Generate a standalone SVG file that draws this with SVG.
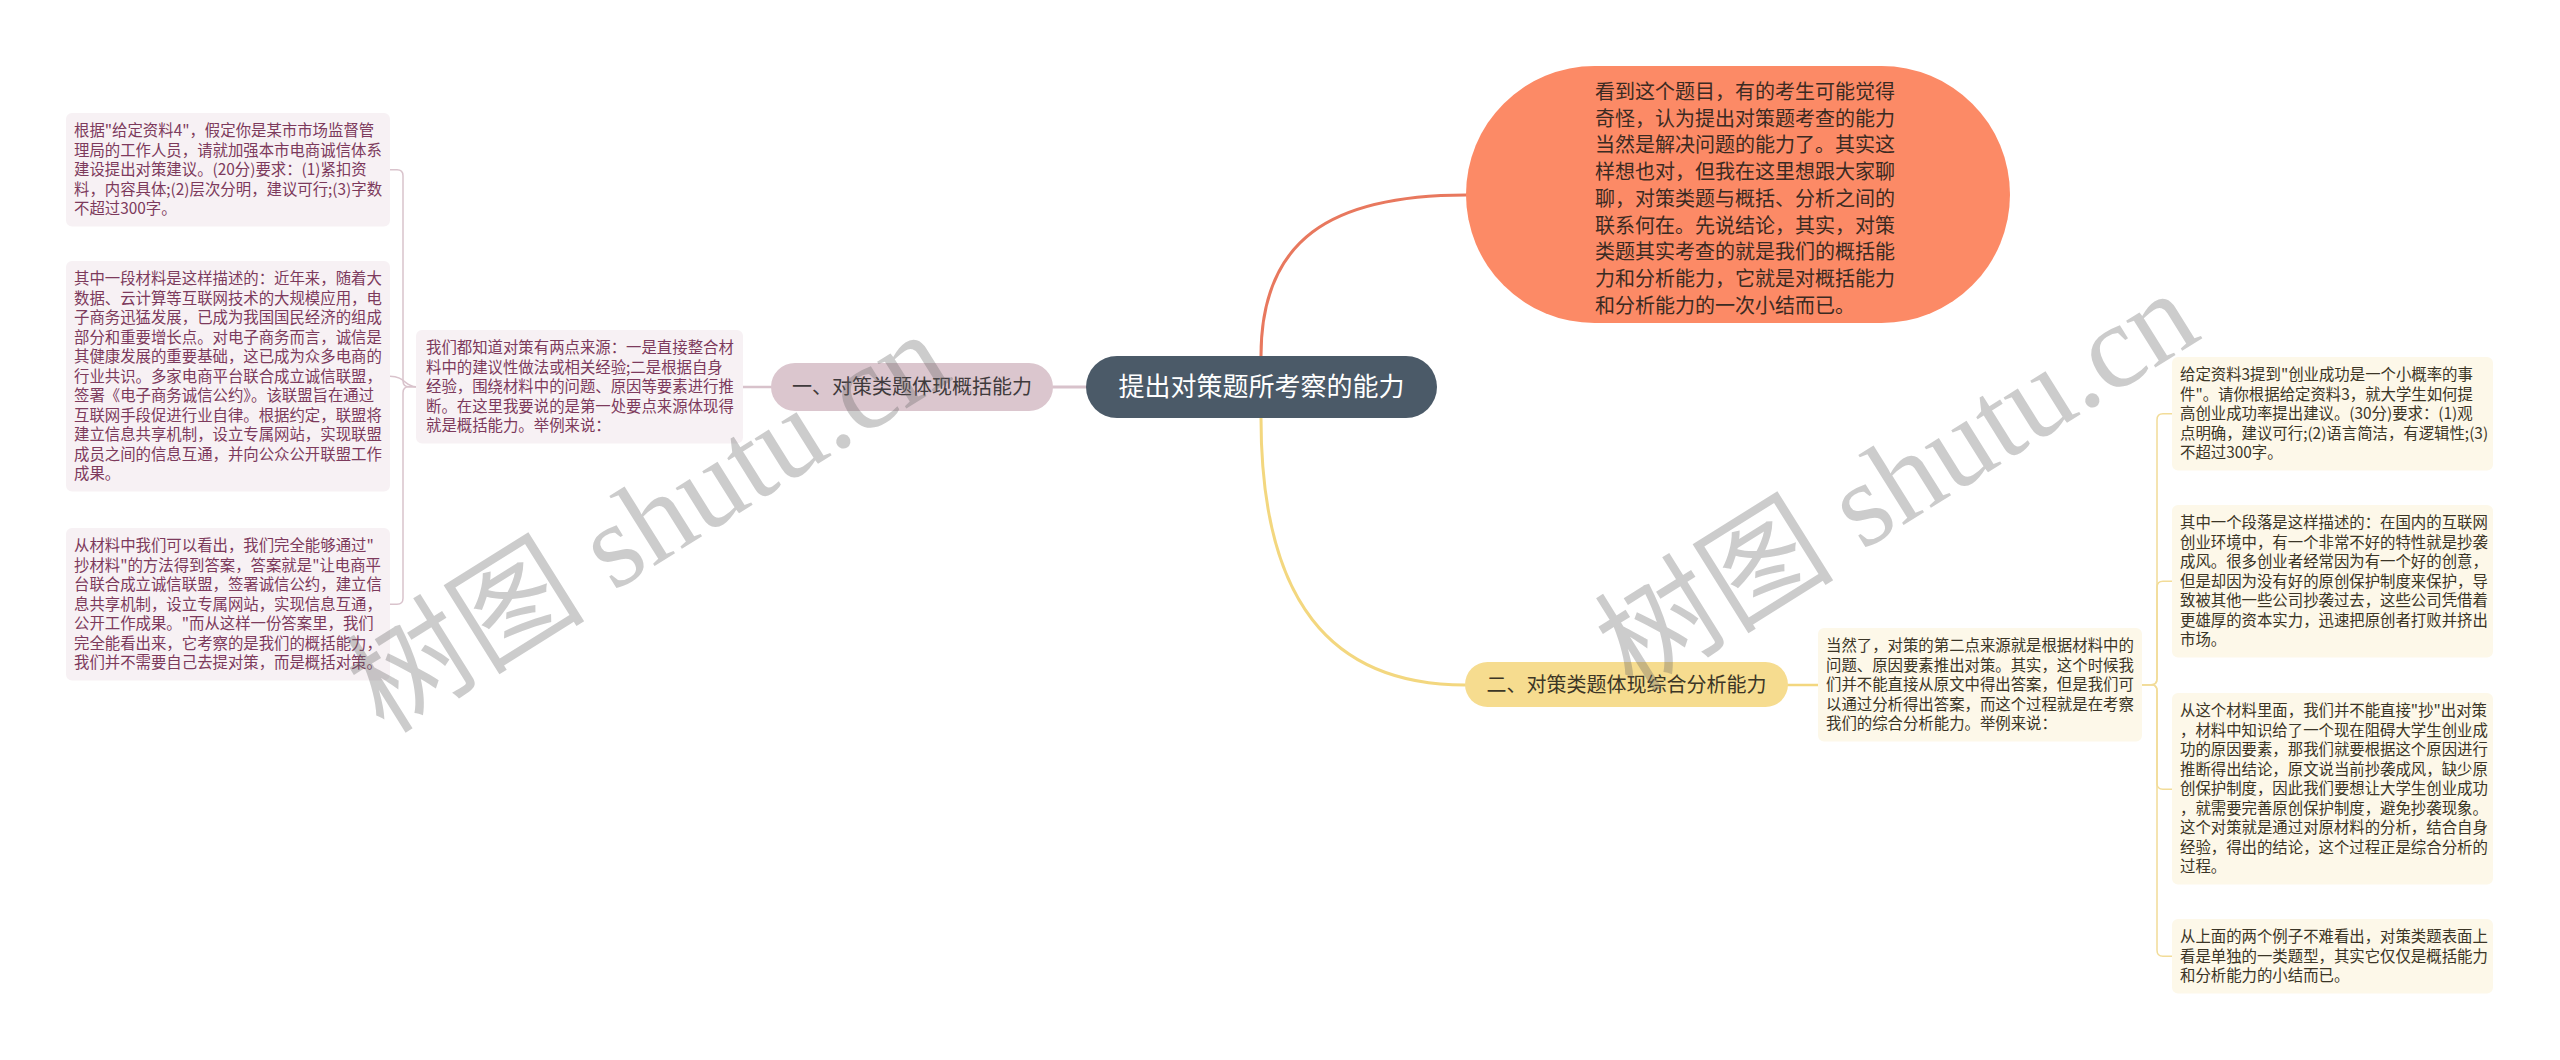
<svg xmlns="http://www.w3.org/2000/svg" width="2560" height="1060" viewBox="0 0 2560 1060">
<style>
  text { font-family: "Noto Sans CJK SC", "Noto Sans", sans-serif; }
  .lf { fill: #f7f1f4; }
  .rf { fill: #fdf8e9; }
  .lt { font-size: 15.4px; fill: #7d3a5c; }
  .rt { font-size: 15.4px; fill: #3b3526; }
  .conn { fill: none; stroke-linecap: round; }
  .wm { font-family: "Liberation Serif", "Noto Sans CJK SC", serif; font-size: 120px; fill: #666; opacity: 0.33; }
</style>
<rect width="2560" height="1060" fill="#ffffff"/>

<g id="connectors">
  <path class="conn" d="M1261 356 C1261 240 1330 195 1466 195" stroke="#e8785e" stroke-width="3"/>
  <path class="conn" d="M1261 418 C1261 600 1330 685 1465 685" stroke="#f3d77f" stroke-width="3"/>
  <path class="conn" d="M1086 387 H1053" stroke="#d8c2cb" stroke-width="3"/>
  <path class="conn" d="M771 387 H743" stroke="#d8c2cb" stroke-width="2.5"/>
  <path class="conn" d="M416 386.75 H409 Q403 386.75 403 380.75 V175.75 Q403 169.75 397 169.75 H390" stroke="#d9c3cc" stroke-width="1.5"/>
  <path class="conn" d="M416 386.75 C405 386.75 405 376.25 390 376.25" stroke="#d9c3cc" stroke-width="1.5"/>
  <path class="conn" d="M416 386.75 H409 Q403 386.75 403 392.75 V598.25 Q403 604.25 397 604.25 H390" stroke="#d9c3cc" stroke-width="1.5"/>
  <path class="conn" d="M1788 685 H1818" stroke="#f3d77f" stroke-width="2.5"/>
  <path class="conn" d="M2142 684.75 H2151 Q2157 684.75 2157 678.75 V419.75 Q2157 413.75 2163 413.75 H2172" stroke="#f2dc98" stroke-width="1.5"/>
  <path class="conn" d="M2142 684.75 H2151 Q2157 684.75 2157 678.75 V587.25 Q2157 581.25 2163 581.25 H2172" stroke="#f2dc98" stroke-width="1.5"/>
  <path class="conn" d="M2142 684.75 H2151 Q2157 684.75 2157 690.75 V783.25 Q2157 789.25 2163 789.25 H2172" stroke="#f2dc98" stroke-width="1.5"/>
  <path class="conn" d="M2142 684.75 H2151 Q2157 684.75 2157 690.75 V950.25 Q2157 956.25 2163 956.25 H2172" stroke="#f2dc98" stroke-width="1.5"/>
</g>

<g id="root">
  <rect x="1086" y="356" width="351" height="62" rx="31" fill="#4b5a68"/>
  <text x="1261.5" y="396" font-size="26" fill="#ffffff" text-anchor="middle">提出对策题所考察的能力</text>
</g>

<g id="intro">
  <rect x="1466" y="66" width="544" height="257" rx="128.5" fill="#fc8a66"/>
  <text font-size="20" fill="#3b2a22">
    <tspan x="1595" y="99">看到这个题目，有的考生可能觉得</tspan>
    <tspan x="1595" y="125.7">奇怪，认为提出对策题考查的能力</tspan>
    <tspan x="1595" y="152.4">当然是解决问题的能力了。其实这</tspan>
    <tspan x="1595" y="179.1">样想也对，但我在这里想跟大家聊</tspan>
    <tspan x="1595" y="205.8">聊，对策类题与概括、分析之间的</tspan>
    <tspan x="1595" y="232.5">联系何在。先说结论，其实，对策</tspan>
    <tspan x="1595" y="259.2">类题其实考查的就是我们的概括能</tspan>
    <tspan x="1595" y="285.9">力和分析能力，它就是对概括能力</tspan>
    <tspan x="1595" y="312.6">和分析能力的一次小结而已。</tspan>
  </text>
</g>

<g id="branch1">
  <rect x="771" y="363" width="282" height="48" rx="24" fill="#dbc6ce"/>
  <text x="912" y="394" font-size="20" fill="#3f3a3c" text-anchor="middle">一、对策类题体现概括能力</text>
</g>

<g id="branch2">
  <rect x="1465" y="662" width="323" height="45" rx="22.5" fill="#f6dc8f"/>
  <text x="1626.5" y="692" font-size="20" fill="#3c3626" text-anchor="middle">二、对策类题体现综合分析能力</text>
</g>

<g id="left-mid">
  <rect class="lf" x="416" y="330" width="327" height="113.5" rx="6"/>
  <text class="lt">
    <tspan x="426" y="353.3">我们都知道对策有两点来源：一是直接整合材</tspan>
    <tspan x="426" y="372.8">料中的建议性做法或相关经验;二是根据自身</tspan>
    <tspan x="426" y="392.3">经验，围绕材料中的问题、原因等要素进行推</tspan>
    <tspan x="426" y="411.8">断。在这里我要说的是第一处要点来源体现得</tspan>
    <tspan x="426" y="431.3">就是概括能力。举例来说：</tspan>
  </text>
</g>

<g id="left-leaf1">
  <rect class="lf" x="66" y="113" width="324" height="113.5" rx="6"/>
  <text class="lt">
    <tspan x="74" y="136.3">根据"给定资料4"，假定你是某市市场监督管</tspan>
    <tspan x="74" y="155.8">理局的工作人员，请就加强本市电商诚信体系</tspan>
    <tspan x="74" y="175.3">建设提出对策建议。(20分)要求：(1)紧扣资</tspan>
    <tspan x="74" y="194.8">料，内容具体;(2)层次分明，建议可行;(3)字数</tspan>
    <tspan x="74" y="214.3">不超过300字。</tspan>
  </text>
</g>

<g id="left-leaf2">
  <rect class="lf" x="66" y="261" width="324" height="230.5" rx="6"/>
  <text class="lt">
    <tspan x="74" y="284.3">其中一段材料是这样描述的：近年来，随着大</tspan>
    <tspan x="74" y="303.8">数据、云计算等互联网技术的大规模应用，电</tspan>
    <tspan x="74" y="323.3">子商务迅猛发展，已成为我国国民经济的组成</tspan>
    <tspan x="74" y="342.8">部分和重要增长点。对电子商务而言，诚信是</tspan>
    <tspan x="74" y="362.3">其健康发展的重要基础，这已成为众多电商的</tspan>
    <tspan x="74" y="381.8">行业共识。多家电商平台联合成立诚信联盟，</tspan>
    <tspan x="74" y="401.3">签署《电子商务诚信公约》。该联盟旨在通过</tspan>
    <tspan x="74" y="420.8">互联网手段促进行业自律。根据约定，联盟将</tspan>
    <tspan x="74" y="440.3">建立信息共享机制，设立专属网站，实现联盟</tspan>
    <tspan x="74" y="459.8">成员之间的信息互通，并向公众公开联盟工作</tspan>
    <tspan x="74" y="479.3">成果。</tspan>
  </text>
</g>

<g id="left-leaf3">
  <rect class="lf" x="66" y="528" width="324" height="152.5" rx="6"/>
  <text class="lt">
    <tspan x="74" y="551.3">从材料中我们可以看出，我们完全能够通过"</tspan>
    <tspan x="74" y="570.8">抄材料"的方法得到答案，答案就是"让电商平</tspan>
    <tspan x="74" y="590.3">台联合成立诚信联盟，签署诚信公约，建立信</tspan>
    <tspan x="74" y="609.8">息共享机制，设立专属网站，实现信息互通，</tspan>
    <tspan x="74" y="629.3">公开工作成果。"而从这样一份答案里，我们</tspan>
    <tspan x="74" y="648.8">完全能看出来，它考察的是我们的概括能力，</tspan>
    <tspan x="74" y="668.3">我们并不需要自己去提对策，而是概括对策。</tspan>
  </text>
</g>

<g id="right-mid">
  <rect class="rf" x="1818" y="628" width="324" height="113.5" rx="6"/>
  <text class="rt">
    <tspan x="1826" y="651.3">当然了，对策的第二点来源就是根据材料中的</tspan>
    <tspan x="1826" y="670.8">问题、原因要素推出对策。其实，这个时候我</tspan>
    <tspan x="1826" y="690.3">们并不能直接从原文中得出答案，但是我们可</tspan>
    <tspan x="1826" y="709.8">以通过分析得出答案，而这个过程就是在考察</tspan>
    <tspan x="1826" y="729.3">我们的综合分析能力。举例来说：</tspan>
  </text>
</g>

<g id="right-leaf1">
  <rect class="rf" x="2172" y="357" width="321" height="113.5" rx="6"/>
  <text class="rt">
    <tspan x="2180" y="380.3">给定资料3提到"创业成功是一个小概率的事</tspan>
    <tspan x="2180" y="399.8">件"。请你根据给定资料3，就大学生如何提</tspan>
    <tspan x="2180" y="419.3">高创业成功率提出建议。(30分)要求：(1)观</tspan>
    <tspan x="2180" y="438.8">点明确，建议可行;(2)语言简洁，有逻辑性;(3)</tspan>
    <tspan x="2180" y="458.3">不超过300字。</tspan>
  </text>
</g>

<g id="right-leaf2">
  <rect class="rf" x="2172" y="505" width="321" height="152.5" rx="6"/>
  <text class="rt">
    <tspan x="2180" y="528.3">其中一个段落是这样描述的：在国内的互联网</tspan>
    <tspan x="2180" y="547.8">创业环境中，有一个非常不好的特性就是抄袭</tspan>
    <tspan x="2180" y="567.3">成风。很多创业者经常因为有一个好的创意，</tspan>
    <tspan x="2180" y="586.8">但是却因为没有好的原创保护制度来保护，导</tspan>
    <tspan x="2180" y="606.3">致被其他一些公司抄袭过去，这些公司凭借着</tspan>
    <tspan x="2180" y="625.8">更雄厚的资本实力，迅速把原创者打败并挤出</tspan>
    <tspan x="2180" y="645.3">市场。</tspan>
  </text>
</g>

<g id="right-leaf3">
  <rect class="rf" x="2172" y="693" width="321" height="191.5" rx="6"/>
  <text class="rt">
    <tspan x="2180" y="716.3">从这个材料里面，我们并不能直接"抄"出对策</tspan>
    <tspan x="2180" y="735.8">，材料中知识给了一个现在阻碍大学生创业成</tspan>
    <tspan x="2180" y="755.3">功的原因要素，那我们就要根据这个原因进行</tspan>
    <tspan x="2180" y="774.8">推断得出结论，原文说当前抄袭成风，缺少原</tspan>
    <tspan x="2180" y="794.3">创保护制度，因此我们要想让大学生创业成功</tspan>
    <tspan x="2180" y="813.8">，就需要完善原创保护制度，避免抄袭现象。</tspan>
    <tspan x="2180" y="833.3">这个对策就是通过对原材料的分析，结合自身</tspan>
    <tspan x="2180" y="852.8">经验，得出的结论，这个过程正是综合分析的</tspan>
    <tspan x="2180" y="872.3">过程。</tspan>
  </text>
</g>

<g id="right-leaf4">
  <rect class="rf" x="2172" y="919" width="321" height="74.5" rx="6"/>
  <text class="rt">
    <tspan x="2180" y="942.3">从上面的两个例子不难看出，对策类题表面上</tspan>
    <tspan x="2180" y="961.8">看是单独的一类题型，其实它仅仅是概括能力</tspan>
    <tspan x="2180" y="981.3">和分析能力的小结而已。</tspan>
  </text>
</g>

<g id="watermarks">
  <text class="wm" x="384" y="735" transform="rotate(-32 384 735)">树图 shutu.cn</text>
  <text class="wm" x="1633" y="694" transform="rotate(-32 1633 694)">树图 shutu.cn</text>
</g>
</svg>
